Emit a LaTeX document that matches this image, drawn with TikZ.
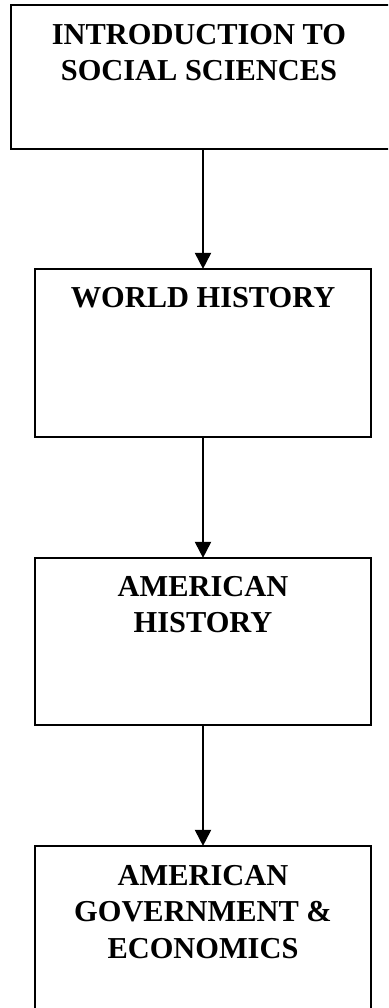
\documentclass[tikz,border=0pt]{standalone}
\usepackage{fontspec}
\setmainfont{Liberation Serif}
\usetikzlibrary{arrows.meta}
\begin{document}
\begin{tikzpicture}[x=1pt,y=-1pt,
  boxnode/.style={draw, line width=2.2pt, minimum width=336pt, inner sep=0pt, rectangle},
  txt/.style={inner sep=0pt, align=center, font=\fontsize{30.4}{36.5}\selectfont\bfseries},
  conn/.style={line width=2pt, -{Triangle[width=16pt,length=16pt]}, shorten >=-1pt}]
\useasboundingbox (0,0) rectangle (388,1008);
\clip (0,0) rectangle (388,1008);
\node[boxnode, minimum width=396pt, minimum height=144pt] (b1) at (209,77) {};
\node[boxnode, minimum height=168pt] (b2) at (203,353) {};
\node[boxnode, minimum height=167pt] (b3) at (203,641.5) {};
\node[boxnode, minimum height=168pt] (b4) at (203,930) {};
\node[txt, anchor=north] (t1) at (199,24) {INTRODUCTION TO\\SOCIAL SCIENCES};
\node[txt, anchor=north] (t2) at (203,287) {WORLD HISTORY};
\node[txt, anchor=north] (t3) at (203,576) {AMERICAN\\HISTORY};
\node[txt, anchor=north] (t4) at (203,865) {AMERICAN\\GOVERNMENT \&\\ECONOMICS};
\draw[conn] (b1.south -| b2.north) -- (b2.north);
\draw[conn] (b2.south) -- (b3.north);
\draw[conn] (b3.south) -- (b4.north);
\end{tikzpicture}
\end{document}
